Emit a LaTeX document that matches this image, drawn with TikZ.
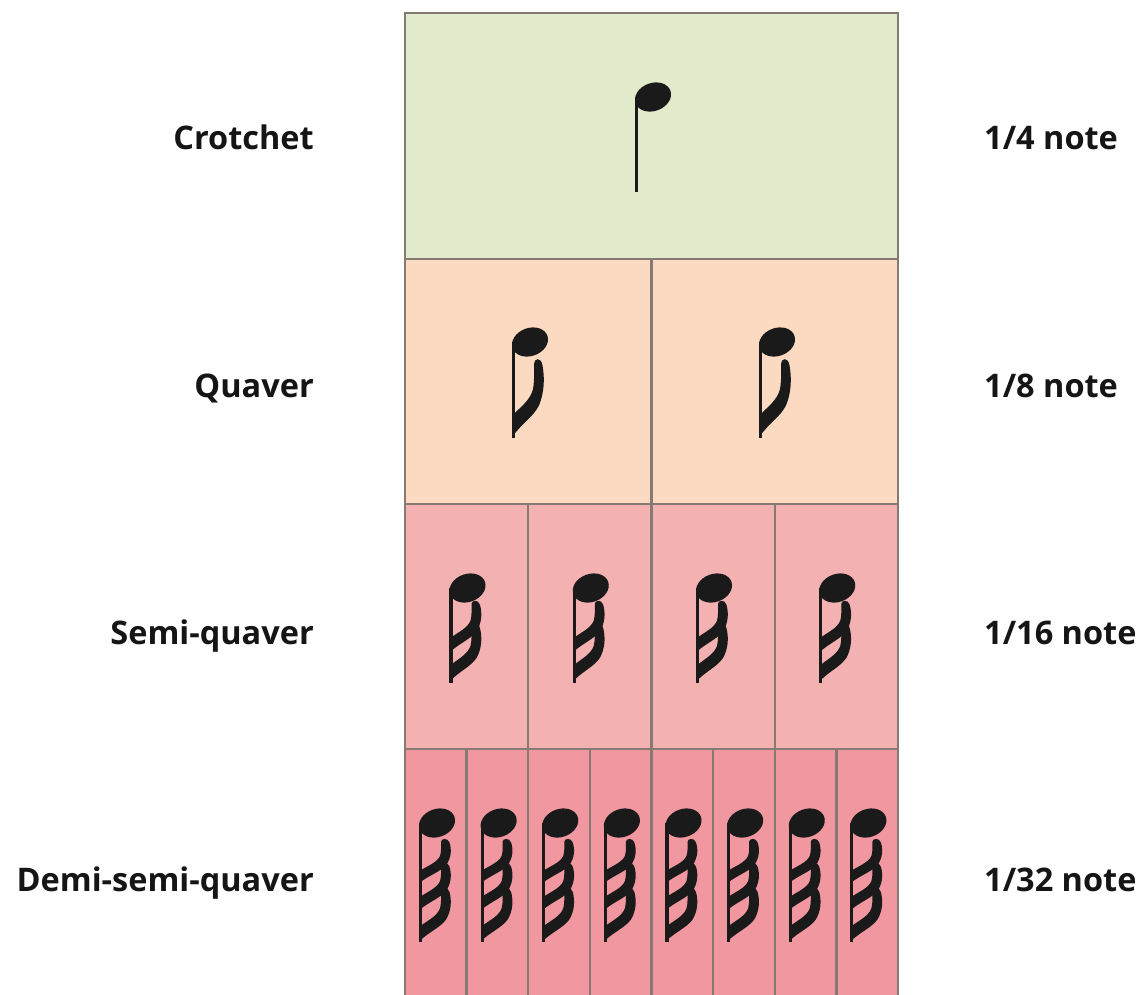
\documentclass[tikz,border=0pt]{standalone}
\usepackage{fontspec}
\setmainfont{Open Sans}
\definecolor{rowA}{HTML}{E1EACB}
\definecolor{rowB}{HTML}{FCD9C1}
\definecolor{rowC}{HTML}{F4B1B2}
\definecolor{rowD}{HTML}{F1979F}
\definecolor{gridline}{HTML}{857B72}
\definecolor{ink}{HTML}{1A1A1A}
\definecolor{labeltext}{HTML}{151515}

% one flag: top at #1 below the head centre, #2 tall, joining the stem
\newcommand\noteflag[2]{%
  \fill[ink, shift={(0,#1)}, yscale=#2/50]
    (4,2) .. controls (4,-2) and (11,-3) .. (12.5,3)
    .. controls (15,12) and (14,22) .. (9,30)
    .. controls (3,38) and (-8,42) .. (-17.5,51)
    -- (-17.5,37)
    .. controls (-10,31) and (0,27) .. (3,19)
    .. controls (4.5,13) and (4,8) .. (4,2) -- cycle;}

\tikzset{
  cellA/.style={fill=rowA},
  cellB/.style={fill=rowB},
  cellC/.style={fill=rowC},
  cellD/.style={fill=rowD},
  gridrule/.style={draw=gridline, line width=2.4pt},
  lbl/.style={font=\fontsize{32.5}{38}\selectfont\bfseries, text=labeltext, inner sep=0pt},
  notehead/.style={fill=ink, rotate=20},
  notestem/.style={draw=ink, line width=3.2pt},
  crotchetsym/.pic={
    \fill[notehead] (0,0) ellipse [x radius=18.5, y radius=14];
    \draw[notestem] (-16.5,0) -- (-16.5,95);},
  quaversym/.pic={
    \fill[notehead] (0,0) ellipse [x radius=18.5, y radius=14];
    \draw[notestem] (-16.5,0) -- (-16.5,96);
    \noteflag{19}{74}},
  semisym/.pic={
    \fill[notehead] (0,0) ellipse [x radius=18.5, y radius=14];
    \draw[notestem] (-16.5,0) -- (-16.5,95);
    \noteflag{14}{49}
    \noteflag{37}{55}},
  demisym/.pic={
    \fill[notehead] (0,0) ellipse [x radius=18.5, y radius=14];
    \draw[notestem] (-16.5,0) -- (-16.5,119);
    \noteflag{17}{42}
    \noteflag{41}{45}
    \noteflag{66}{51}},
}

\begin{document}
\begin{tikzpicture}[x=1pt,y=-1pt]
\useasboundingbox (0,0) rectangle (1147,994);

% rows of the duration chart
\fill[cellA] (405,13) rectangle (898,259);
\fill[cellB] (405,259) rectangle (898,504);
\fill[cellC] (405,504) rectangle (898,749);
\fill[cellD] (405,749) rectangle (898,1000);

% outline and dividers
\draw[gridrule] (405,1000) -- (405,13) -- (898,13) -- (898,1000);
\draw[gridrule] (405,259) -- (898,259);
\draw[gridrule] (405,504) -- (898,504);
\draw[gridrule] (405,749) -- (898,749);
\draw[gridrule] (651.5,259) -- (651.5,504);
\foreach \x in {528.25,651.5,774.75}
  \draw[gridrule] (\x,504) -- (\x,749);
\foreach \i in {1,...,7}
  \draw[gridrule] ({405+\i*61.625},749) -- ({405+\i*61.625},1000);

% note symbols
\pic at (653,97) {crotchetsym};
\foreach \x in {530,777}
  \pic at (\x,342) {quaversym};
\foreach \i in {0,...,3}
  \pic at ({467.5+\i*123.25},588) {semisym};
\foreach \i in {0,...,7}
  \pic at ({437+\i*61.625},823) {demisym};

% names on the left
\node[lbl, anchor=base east] (n1) at (314,149) {Crotchet};
\node[lbl, anchor=base east] (n2) at (314,397) {Quaver};
\node[lbl, anchor=base east] (n3) at (314,644) {Semi-quaver};
\node[lbl, anchor=base east] (n4) at (314,891) {Demi-semi-quaver};

% fractions on the right
\node[lbl, anchor=base west] (v1) at (984,149) {1/4 note};
\node[lbl, anchor=base west] (v2) at (984,397) {1/8 note};
\node[lbl, anchor=base west] (v3) at (984,644) {1/16 note};
\node[lbl, anchor=base west] (v4) at (984,891) {1/32 note};
\end{tikzpicture}
\end{document}
